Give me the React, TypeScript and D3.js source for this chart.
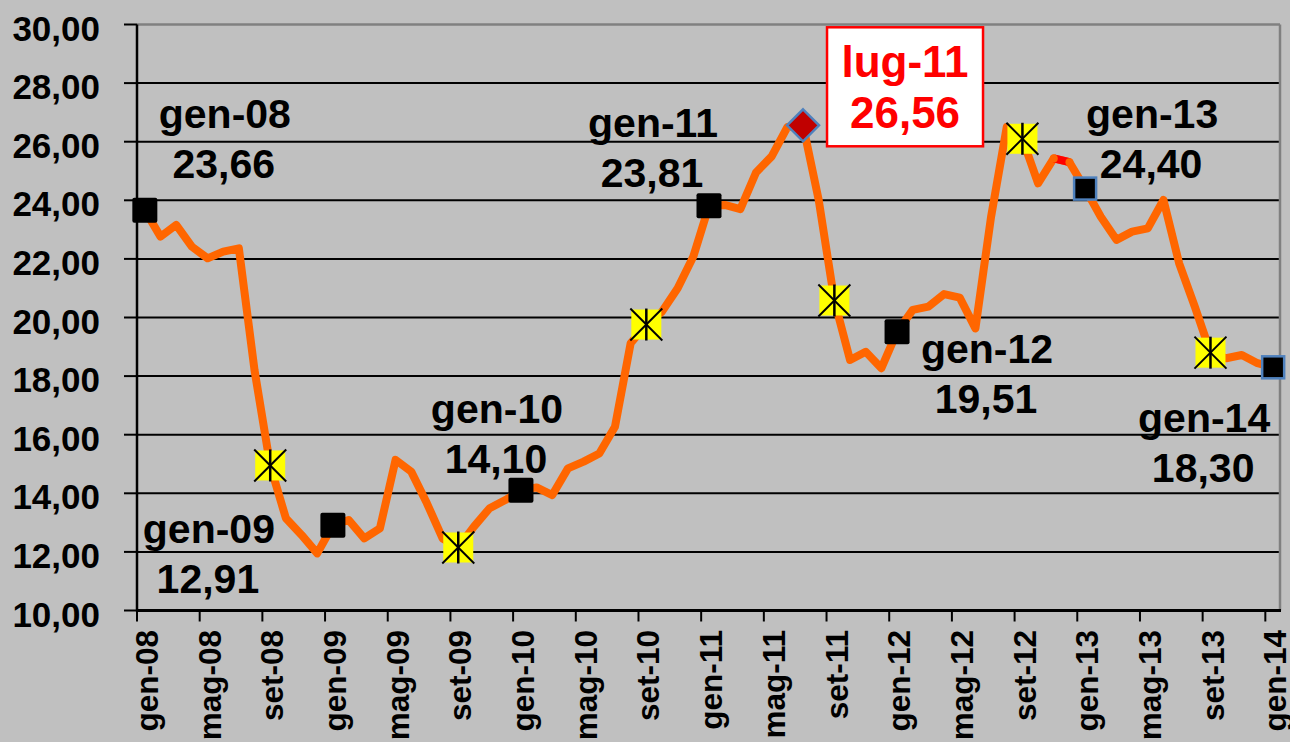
import React from "react";
import * as d3 from "d3";

const monthNames = ["gen", "feb", "mar", "apr", "mag", "giu", "lug", "ago", "set", "ott", "nov", "dic"];
const years = ["08", "09", "10", "11", "12", "13", "14"];
const categories: string[] = [];
years.forEach((y, yi) => {
  monthNames.forEach((m, mi) => {
    if (yi < years.length - 1 || mi === 0) categories.push(`${m}-${y}`);
  });
});

const values = [
  23.66, 22.76, 23.16, 22.42, 22.02, 22.25, 22.36, 18.2, 14.95, 13.15, 12.58, 11.95,
  12.91, 13.09, 12.46, 12.8, 15.14, 14.74, 13.66, 12.46, 12.15, 12.86, 13.49, 13.77,
  14.1, 14.2, 13.94, 14.85, 15.08, 15.36, 16.27, 19.12, 19.76, 20.2, 21.0, 22.08,
  23.81, 23.84, 23.7, 24.95, 25.5, 26.5, 26.56, 24.01, 20.58, 18.55, 18.83, 18.27,
  19.51, 20.26, 20.37, 20.8, 20.68, 19.63, 23.44, 26.5, 26.1, 24.58, 25.43, 25.3,
  24.4, 23.44, 22.65, 22.93, 23.04, 24.01, 21.85, 20.37, 18.8, 18.61, 18.72, 18.44,
  18.3,
];

const yTicks = [10, 12, 14, 16, 18, 20, 22, 24, 26, 28, 30];
const xTickEvery = 4;

// marker categories
const squareMarkers = ["gen-08", "gen-09", "gen-10", "gen-11", "gen-12"];
const blueSquareMarkers = ["gen-13", "gen-14"];
const starMarkers = ["set-08", "set-09", "set-10", "set-11", "set-12", "set-13"];
const diamondMarkers = ["lug-11"];
const redSegment = ["nov-12", "dic-12"];

const labeled = ["gen-08", "gen-09", "gen-10", "gen-11", "gen-12", "gen-13", "gen-14"];
// label layout offsets (dx, dy of first baseline relative to point)
const labelOffsets: Record<string, [number, number]> = {
  "gen-08": [80, -82],
  "gen-09": [-124, 18],
  "gen-10": [-24, -67],
  "gen-11": [-56, -69],
  "gen-12": [90, 31],
  "gen-13": [67, -61],
  "gen-14": [-69, 65],
};
const highlight = "lug-11";

const FONT = "'Liberation Sans', Arial, Helvetica, sans-serif";
const fmt = (v: number) => v.toFixed(2).replace(".", ",");

export default function App() {
  const W = 1290, H = 742;
  const left = 137, right = 1281, top = 24.5, bottom = 610.5;
  const x = d3.scaleLinear().domain([0, categories.length]).range([left, right]);
  const y = d3.scaleLinear().domain([10, 30]).range([bottom, top]);
  const px = (i: number) => x(i + 0.5);
  const idx = (c: string) => categories.indexOf(c);

  const line = d3
    .line<number>()
    .x((_, i) => px(i))
    .y((d) => y(d));

  const xTicks = d3.range(0, categories.length, xTickEvery);

  const r0 = idx(redSegment[0]);
  const r1 = idx(redSegment[1]);
  const rx0 = px(r0), ry0 = y(values[r0]), rx1 = px(r1), ry1 = y(values[r1]);

  const hi = idx(highlight);
  const hx = px(hi), hy = y(values[hi]);

  return (
    <div style={{ position: "absolute", left: 0, top: 0 }}>
      <svg width={W} height={H} style={{ display: "block", background: "#C0C0C0" }}>
        <rect x={0} y={0} width={W} height={H} fill="#C0C0C0" />
        {/* gridlines */}
        {yTicks.filter((t) => t !== 10 && t !== 30).map((t) => (
          <line key={t} x1={left} x2={right} y1={y(t)} y2={y(t)} stroke="#000" strokeWidth={2} />
        ))}
        {/* plot border top/right */}
        <line x1={left} x2={right - 1} y1={y(30)} y2={y(30)} stroke="#808080" strokeWidth={2.5} />
        <line x1={right - 1} x2={right - 1} y1={y(30)} y2={bottom} stroke="#808080" strokeWidth={2.5} />
        {/* y ticks */}
        {yTicks.map((t) => (
          <g key={t}>
            <line x1={124} x2={left} y1={y(t)} y2={y(t)} stroke="#000" strokeWidth={2} />
            <text x={100} y={y(t) + 16} textAnchor="end" fontFamily={FONT} fontWeight="bold" fontSize={35} fill="#000">
              {fmt(t)}
            </text>
          </g>
        ))}
        {/* axes */}
        <line x1={left} x2={left} y1={y(30)} y2={bottom + 1} stroke="#000" strokeWidth={2.5} />
        <line x1={left - 1} x2={right} y1={bottom} y2={bottom} stroke="#000" strokeWidth={3} />
        {xTicks.map((i) => (
          <g key={i}>
            <line x1={x(i)} x2={x(i)} y1={bottom} y2={bottom + 11} stroke="#000" strokeWidth={2} />
            <text
              transform={`translate(${x(i) + 21},630) rotate(-90)`}
              textAnchor="end"
              fontFamily={FONT}
              fontWeight="bold"
              fontSize={31.5}
              fill="#000"
            >
              {categories[i]}
            </text>
          </g>
        ))}
        {/* data line */}
        <path d={line(values) || ""} fill="none" stroke="#FF6600" strokeWidth={8} strokeLinejoin="round" strokeLinecap="round" />
        <line x1={rx0} y1={ry0} x2={rx1} y2={ry1} stroke="#FF0000" strokeWidth={8} />
        <circle cx={rx0} cy={ry0} r={4} fill="#FF6600" />
        <circle cx={rx1} cy={ry1} r={4} fill="#FF6600" />
        {/* markers */}
        {squareMarkers.map((c) => {
          const i = idx(c);
          return <rect key={c} x={px(i) - 12.5} y={y(values[i]) - 12.5} width={25} height={25} rx={2} fill="#000" />;
        })}
        {blueSquareMarkers.map((c) => {
          const i = idx(c);
          return (
            <rect key={c} x={px(i) - 11} y={y(values[i]) - 11} width={22} height={22} fill="#000" stroke="#4F81BD" strokeWidth={2.5} />
          );
        })}
        {starMarkers.map((c) => {
          const i = idx(c);
          const cx = px(i), cy = y(values[i]);
          return (
            <g key={c}>
              <rect x={cx - 15} y={cy - 15} width={30} height={30} fill="#FFFF00" />
              <line x1={cx - 16} y1={cy - 16} x2={cx + 16} y2={cy + 16} stroke="#000" strokeWidth={2} />
              <line x1={cx - 16} y1={cy + 16} x2={cx + 16} y2={cy - 16} stroke="#000" strokeWidth={2} />
              <line x1={cx} y1={cy - 16} x2={cx} y2={cy + 16} stroke="#000" strokeWidth={2.5} />
            </g>
          );
        })}
        {diamondMarkers.map((c) => {
          const i = idx(c);
          const cx = px(i), cy = y(values[i]);
          return (
            <path
              key={c}
              d={`M${cx},${cy - 16}L${cx + 16},${cy}L${cx},${cy + 16}L${cx - 16},${cy}Z`}
              fill="#C00000"
              stroke="#4F81BD"
              strokeWidth={2.5}
            />
          );
        })}
        {/* data labels */}
        {labeled.map((c) => {
          const i = idx(c);
          const [dx, dy] = labelOffsets[c];
          const lx = px(i) + dx, ly = y(values[i]) + dy;
          return (
            <g key={c} fontFamily={FONT} fontWeight="bold" fontSize={41} fill="#000" textAnchor="middle">
              <text x={lx} y={ly}>{c}</text>
              <text x={lx - 1} y={ly + 50}>{fmt(values[i])}</text>
            </g>
          );
        })}
        {/* highlighted label */}
        <g>
          <rect x={hx + 24} y={hy - 98} width={156} height={119} fill="#FFFFFF" stroke="#FF0000" strokeWidth={2.5} />
          <text x={hx + 102} y={hy - 48} textAnchor="middle" fontFamily={FONT} fontWeight="bold" fontSize={44} fill="#FF0000">
            {highlight}
          </text>
          <text x={hx + 102} y={hy + 3} textAnchor="middle" fontFamily={FONT} fontWeight="bold" fontSize={44} fill="#FF0000">
            {fmt(values[hi])}
          </text>
        </g>
      </svg>
    </div>
  );
}
